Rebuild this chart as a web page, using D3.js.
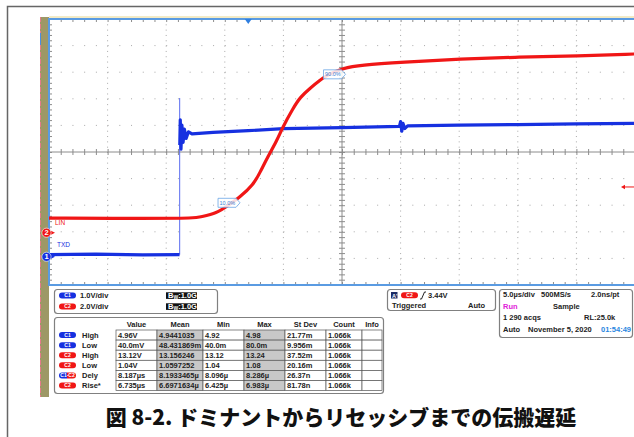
<!DOCTYPE html>
<html>
<head>
<meta charset="utf-8">
<script src="https://cdn.jsdelivr.net/npm/d3@7"></script>
<style>
body { margin: 0; background: #fff; }
svg text { font-family: "Liberation Sans", Arial, sans-serif; }
</style>
</head>
<body>
<div id="scope"></div>
<script>
// C1 (TXD) trace, time in us, volts (null = pen up at the edge)
var c1Time = [-17, -13, -9, -5.86, null, -5.84, -5.8, -5.74, -5.66, -5.56, -5.45, -5.3, -5.1, -4.8, -3, 0, 3, 8, 12.9, 13.0, 13.1, 13.2, 13.35, 13.6, 18, 23, 28, 33];
var c1Volt = [0.08, 0.1, 0.07, 0.08, null, 4.2, 5.15, 4.05, 4.95, 4.3, 4.8, 4.45, 4.7, 4.62, 4.68, 4.74, 4.82, 4.86, 4.9, 5.08, 4.72, 5.02, 4.82, 4.92, 4.95, 4.97, 5.0, 5.02];
// the thin edge spike of C1
var c1EdgeTime = [-5.85, -5.85];
var c1EdgeVolt = [0.08, 5.97];

// C2 (LIN) trace
var c2Time = [-17, -8.4, -4.5, -4.1, -2.65, -1.8, -0.7, 0.43, 1.02, 1.62, 2.47, 2.9, 3.84, 4.44, 5.29, 6.14, 6.74, 8.1, 9.56, 13.14, 18.1, 23.1, 28.1, 33];
var c2Volt = [1.1, 1.07, 1.1, 1.18, 1.48, 2.0, 2.68, 3.59, 4.56, 5.62, 6.97, 7.87, 9.38, 10.2, 10.88, 11.48, 11.86, 12.38, 12.61, 12.83, 13.06, 13.21, 13.29, 13.44];

// reference level flags on C2
var refLabels = ["10.0%", "90.0%"];
var refTime = [-0.7, 8.3];
var refVolt = [2.25, 11.91];

var triggerTime = 0;
var triggerLevel = 3.44;

var chanNames = ["TXD", "LIN"];
var chanScales = ["1.0V/div", "2.0V/div"];
var bwLimit = ["1.0G", "1.0G"];

// measurement table
var measCols = ["Value", "Mean", "Min", "Max", "St Dev", "Count", "Info"];
var measSrc = ["C1", "C1", "C2", "C2", "C1-C2", "C2"];
var measNames = ["High", "Low", "High", "Low", "Dely", "Rise*"];
var measValues = [
    ["4.96V", "4.9441035", "4.92", "4.98", "21.77m", "1.066k", ""],
    ["40.0mV", "48.431869m", "40.0m", "80.0m", "9.956m", "1.066k", ""],
    ["13.12V", "13.156246", "13.12", "13.24", "37.52m", "1.066k", ""],
    ["1.04V", "1.0597252", "1.04", "1.08", "20.16m", "1.066k", ""],
    ["8.187µs", "8.1933465µ", "8.096µ", "8.286µ", "26.37n", "1.066k", ""],
    ["6.735µs", "6.6971634µ", "6.425µ", "6.983µ", "81.78n", "1.066k", ""]
];

var timebase = ["5.0µs/div", "500MS/s", "2.0ns/pt"];
var acqMode = ["Run", "Sample"];
var acqInfo = ["1 290 acqs", "RL:25.0k"];
var acqDate = ["Auto", "November 5, 2020", "01:54:49"];

var caption = "図 8-2. ドミナントからリセッシブまでの伝搬遅延";

var width = 634,
    height = 437,
    grid = {left: 49, right: 635, top: 19, bottom: 285},
    red = "#f01616",
    blue = "#1630e0";

var svg = d3.select("#scope")
    .append("svg")
    .attr("width", width)
    .attr("height", height);

svg.append("rect").attr("width", width).attr("height", height).attr("fill", "#fff");

// figure frame
svg.append("path")
    .attr("d", "M7.5,437V6.5H634")
    .attr("fill", "none")
    .attr("stroke", "#666")
    .attr("stroke-width", 1.5);

// olive strip on the left of the scope screen
svg.append("rect")
    .attr("x", 40).attr("y", 17)
    .attr("width", 9).attr("height", 380)
    .attr("fill", "#9d9866");
svg.append("line")
    .attr("x1", 40.5).attr("x2", 40.5).attr("y1", 17).attr("y2", 397)
    .attr("stroke", "#e47a8a").attr("stroke-width", 1)
    .attr("stroke-dasharray", "5,2");
svg.append("line")
    .attr("x1", 40.5).attr("x2", 40.5).attr("y1", 33).attr("y2", 45)
    .attr("stroke", "#4a8ee0").attr("stroke-width", 1);

// scales
var x = d3.scaleLinear().domain([-17, 33]).range([grid.left, grid.right]);
var yDiv = d3.scaleLinear().domain([-5, 5]).range([grid.bottom, grid.top]);
var yC1 = d3.scaleLinear().domain([-1.06, 8.94]).range([grid.bottom, grid.top]);
var yC2 = d3.scaleLinear().domain([-3.93, 16.07]).range([grid.bottom, grid.top]);

var minorT = d3.range(-17, 33.001, 1);
var minorD = d3.range(-5, 5.001, 0.2);

var plot = svg.append("g");

// dotted grid
plot.selectAll(".vgrid")
    .data(d3.range(-12, 30, 5).filter(function (t) { return t != 8; }))
    .enter().append("line")
    .attr("x1", function (d) { return x(d); })
    .attr("x2", function (d) { return x(d); })
    .attr("y1", grid.top).attr("y2", grid.bottom)
    .attr("stroke", "#a8a8a8")
    .attr("stroke-dasharray", "1,4.32");

plot.selectAll(".hgrid")
    .data(d3.range(-4, 5).filter(function (d) { return d != 0; }))
    .enter().append("line")
    .attr("x1", grid.left).attr("x2", grid.right)
    .attr("y1", function (d) { return yDiv(d); })
    .attr("y2", function (d) { return yDiv(d); })
    .attr("stroke", "#a8a8a8")
    .attr("stroke-dasharray", "1,10.72");

// center cross
plot.append("line")
    .attr("x1", grid.left).attr("x2", grid.right)
    .attr("y1", yDiv(0)).attr("y2", yDiv(0))
    .attr("stroke", "#8c8c8c");
plot.append("line")
    .attr("x1", x(8)).attr("x2", x(8))
    .attr("y1", grid.top).attr("y2", grid.bottom)
    .attr("stroke", "#8c8c8c");

function ticks(g) {
    g.select(".domain").remove();
    g.selectAll("text").remove();
    g.selectAll("line").attr("stroke", "#8c8c8c");
}

plot.append("g")
    .attr("transform", "translate(0," + (yDiv(0) - 3) + ")")
    .call(d3.axisBottom(x).tickValues(minorT).tickSize(6))
    .call(ticks);
plot.append("g")
    .attr("transform", "translate(" + (x(8) - 3) + ",0)")
    .call(d3.axisRight(yDiv).tickValues(minorD).tickSize(6))
    .call(ticks);

// border ticks
plot.append("g").attr("transform", "translate(0," + grid.top + ")")
    .call(d3.axisBottom(x).tickValues(minorT).tickSize(3)).call(ticks);
plot.append("g").attr("transform", "translate(0," + grid.bottom + ")")
    .call(d3.axisTop(x).tickValues(minorT).tickSize(3)).call(ticks);
plot.append("g").attr("transform", "translate(" + grid.left + ",0)")
    .call(d3.axisRight(yDiv).tickValues(minorD).tickSize(3)).call(ticks);

// border
plot.append("line")
    .attr("x1", grid.left).attr("x2", grid.right)
    .attr("y1", grid.top - 2).attr("y2", grid.top - 2)
    .attr("stroke", "#e6d68c");
plot.append("rect")
    .attr("x", grid.left).attr("y", grid.top)
    .attr("width", grid.right - grid.left)
    .attr("height", grid.bottom - grid.top)
    .attr("fill", "none")
    .attr("stroke", "#5a9be2")
    .attr("stroke-width", 2);

// traces
var c1 = c1Time.map(function (t, i) { return {t: t, v: c1Volt[i]}; });
var c1Edge = c1EdgeTime.map(function (t, i) { return {t: t, v: c1EdgeVolt[i]}; });
var c2 = c2Time.map(function (t, i) { return {t: t, v: c2Volt[i]}; });

var line1 = d3.line()
    .defined(function (d) { return d.v != null; })
    .x(function (d) { return x(d.t); })
    .y(function (d) { return yC1(d.v); });
var line2 = d3.line()
    .x(function (d) { return x(d.t); })
    .y(function (d) { return yC2(d.v); })
    .curve(d3.curveBasis);

plot.append("path")
    .attr("d", line1(c1Edge))
    .attr("fill", "none")
    .attr("stroke", "#5a6cf0")
    .attr("stroke-width", 1);

plot.append("path")
    .attr("d", line1(c1))
    .attr("fill", "none")
    .attr("stroke", blue)
    .attr("stroke-width", 3.2)
    .attr("stroke-linejoin", "round");

plot.append("path")
    .attr("d", line2(c2))
    .attr("fill", "none")
    .attr("stroke", red)
    .attr("stroke-width", 3.2);

// reference level flags
refLabels.forEach(function (lab, i) {
    var tx = x(refTime[i]), ty = yC2(refVolt[i]);
    plot.append("path")
        .attr("d", "M" + (tx - 22) + "," + (ty - 4.5) + "H" + (tx - 4) + "L" + tx + "," + ty +
            "L" + (tx - 4) + "," + (ty + 4.5) + "H" + (tx - 22) + "Z")
        .attr("fill", "#fff")
        .attr("fill-opacity", 0.85)
        .attr("stroke", "#6aa6e6")
        .attr("stroke-width", 0.8);
    plot.append("text")
        .attr("x", tx - 20.5).attr("y", ty + 2)
        .attr("font-size", 5.5)
        .attr("fill", "#3a7fd5")
        .text(lab);
});

// trigger position and level
plot.append("path")
    .attr("d", "M" + (x(triggerTime) - 3.5) + "," + grid.top + "h7l-3.5,5z")
    .attr("fill", "#2f7fe0");
var ty = yC2(triggerLevel);
plot.append("line")
    .attr("x1", 624).attr("x2", 634).attr("y1", ty).attr("y2", ty)
    .attr("stroke", red).attr("stroke-width", 1);
plot.append("path")
    .attr("d", "M621," + ty + "l4,-2.2v4.4z")
    .attr("fill", red);

// channel ground markers
[{n: "2", y: yC2(0), c: red}, {n: "1", y: yC1(0), c: blue}].forEach(function (m) {
    plot.append("path")
        .attr("d", "M51," + (m.y - 2) + "l4,2l-4,2z")
        .attr("fill", m.c);
    plot.append("circle")
        .attr("cx", 46.5).attr("cy", m.y).attr("r", 4.6)
        .attr("fill", m.c)
        .attr("stroke", "#fff").attr("stroke-width", 0.6);
    plot.append("text")
        .attr("x", 46.5).attr("y", m.y + 2.6)
        .attr("text-anchor", "middle")
        .attr("font-size", 7.5).attr("font-weight", "bold")
        .attr("fill", "#fff")
        .text(m.n);
});

plot.append("text")
    .attr("x", 57).attr("y", 247)
    .attr("font-size", 6.5).attr("fill", blue)
    .text(chanNames[0]);
plot.append("text")
    .attr("x", 55).attr("y", 225)
    .attr("font-size", 6.5).attr("fill", red)
    .text(chanNames[1]);

// lower panels
var panels = svg.append("g").attr("font-weight", "bold").attr("font-size", 7.5).attr("fill", "#222");

var defs = svg.append("defs");
var grad = defs.append("linearGradient").attr("id", "c1c2");
grad.append("stop").attr("offset", "50%").attr("stop-color", blue);
grad.append("stop").attr("offset", "50%").attr("stop-color", red);

function pill(g, px, py, w, label, fill) {
    g.append("rect")
        .attr("x", px).attr("y", py - 3)
        .attr("width", w).attr("height", 6)
        .attr("rx", 3)
        .attr("fill", fill);
    g.append("text")
        .attr("x", px + w / 2).attr("y", py + 1.8)
        .attr("text-anchor", "middle")
        .attr("font-size", 5)
        .attr("fill", "#fff")
        .text(label);
}

function box(x0, y0, x1, y1) {
    panels.append("rect")
        .attr("x", x0 + 0.5).attr("y", y0 + 0.5)
        .attr("width", x1 - x0).attr("height", y1 - y0)
        .attr("rx", 3)
        .attr("fill", "#fff")
        .attr("stroke", "#808080")
        .attr("stroke-width", 1.2);
}

// channel settings
box(54, 289, 217, 313);
[blue, red].forEach(function (c, i) {
    var py = 295.5 + i * 11;
    pill(panels, 59, py, 17, "C" + (i + 1), c);
    panels.append("text").attr("x", 80).attr("y", py + 2.6).text(chanScales[i]);
    panels.append("rect")
        .attr("x", 166).attr("y", py - 3.2)
        .attr("width", 31).attr("height", 6.6)
        .attr("fill", "#111");
    var t = panels.append("text")
        .attr("x", 168).attr("y", py + 2.4)
        .attr("fill", "#fff");
    t.append("tspan").text("B");
    t.append("tspan").attr("font-size", 5).attr("dy", 1.5).text("W");
    t.append("tspan").attr("dy", -1.5).text(":" + bwLimit[i]);
});

// measurement table
box(54, 317, 383, 393);
var colEdges = [116, 157, 203, 244, 285, 326, 362, 382],
    rowTop = 330,
    rowH = 10.1;

panels.selectAll(".hdr")
    .data(measCols)
    .enter().append("text")
    .attr("x", function (d, i) { return (colEdges[i] + colEdges[i + 1]) / 2; })
    .attr("y", 327)
    .attr("text-anchor", "middle")
    .text(function (d) { return d; });

measValues.forEach(function (row, r) {
    var top = rowTop + r * rowH;
    row.forEach(function (v, c) {
        panels.append("rect")
            .attr("x", colEdges[c]).attr("y", top)
            .attr("width", colEdges[c + 1] - colEdges[c]).attr("height", rowH)
            .attr("fill", (c == 1 || c == 3) ? "#c8c8c8" : "#fff")
            .attr("stroke", "#555")
            .attr("stroke-width", 0.7);
        panels.append("text")
            .attr("x", colEdges[c] + 2).attr("y", top + 7.8)
            .text(v);
    });
    var src = measSrc[r];
    var fill = src == "C1-C2" ? "url(#c1c2)" : (src == "C1" ? blue : red);
    pill(panels, 59, top + rowH / 2, 17, src, fill);
    panels.append("text")
        .attr("x", 82).attr("y", top + 7.8)
        .text(measNames[r]);
});

// trigger panel
box(387, 289, 495, 310);
panels.append("rect")
    .attr("x", 391).attr("y", 292)
    .attr("width", 6.5).attr("height", 6.5)
    .attr("fill", "#1c2c66");
panels.append("text")
    .attr("x", 392).attr("y", 297.6)
    .attr("font-size", 5.5).attr("fill", "#fff")
    .text("A'");
pill(panels, 401, 295.3, 17, "C2", red);
panels.append("path")
    .attr("d", "M420,299h1.5l3,-7h1.5")
    .attr("fill", "none").attr("stroke", "#222").attr("stroke-width", 1);
panels.append("text").attr("x", 428).attr("y", 297.5).text(triggerLevel.toFixed(2) + "V");
panels.append("text").attr("x", 392).attr("y", 307.5).text("Triggered");
panels.append("text").attr("x", 468).attr("y", 307.5).text("Auto");

// timebase panel
box(499, 289, 632, 337);
panels.append("text").attr("x", 503).attr("y", 297).text(timebase[0]);
panels.append("text").attr("x", 541).attr("y", 297).text(timebase[1]);
panels.append("text").attr("x", 591).attr("y", 297).text(timebase[2]);
panels.append("text").attr("x", 503).attr("y", 309).attr("fill", "#e020d8").text(acqMode[0]);
panels.append("text").attr("x", 553).attr("y", 309).text(acqMode[1]);
panels.append("text").attr("x", 503).attr("y", 320).text(acqInfo[0]);
panels.append("text").attr("x", 584).attr("y", 320).text(acqInfo[1]);
panels.append("text").attr("x", 503).attr("y", 332).text(acqDate[0]);
panels.append("text").attr("x", 528).attr("y", 332).text(acqDate[1]);
panels.append("text").attr("x", 601).attr("y", 332).attr("fill", "#2a86e0").text(acqDate[2]);

// caption
svg.append("text")
    .attr("x", 341).attr("y", 425)
    .attr("text-anchor", "middle")
    .style("font-family", "'Noto Sans CJK JP', sans-serif")
    .attr("font-weight", "900")
    .attr("font-size", 21)
    .attr("fill", "#111")
    .text(caption);
</script>
</body>
</html>
